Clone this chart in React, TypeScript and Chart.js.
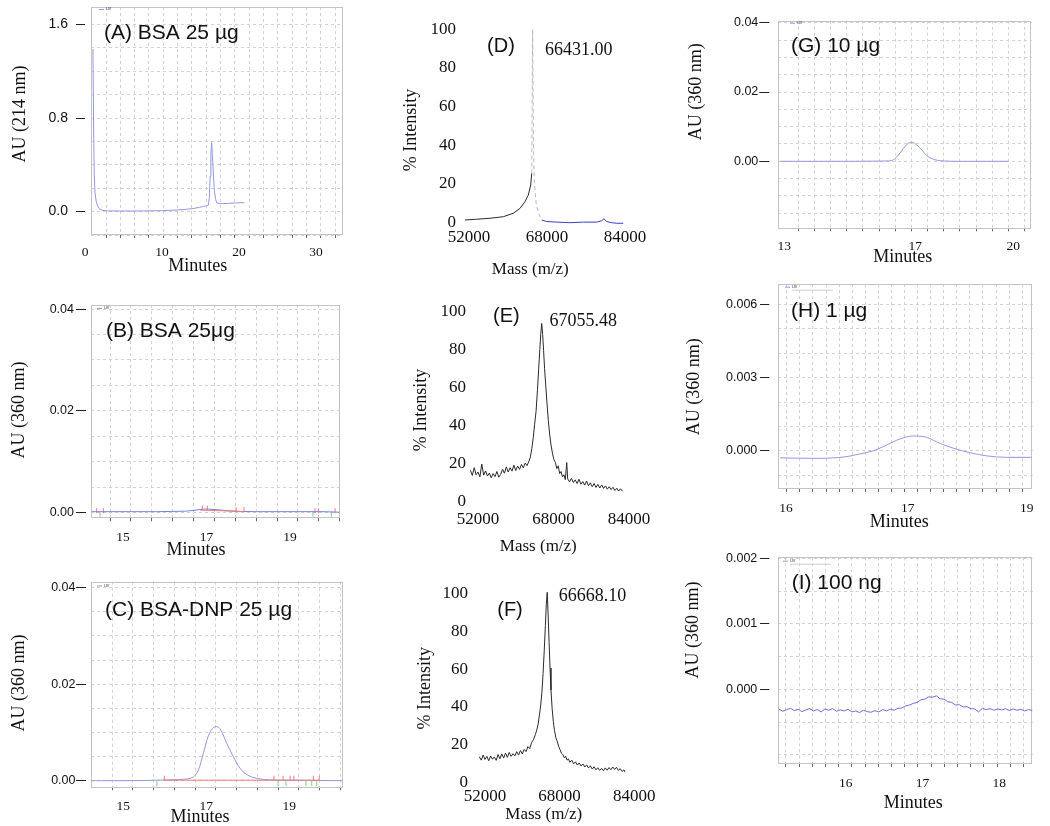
import React, { useEffect, useRef } from "react";
import { Chart, registerables } from "chart.js";

Chart.register(...registerables);

const SERIF = "'Liberation Serif', 'DejaVu Serif', serif";
const SANS = "'Liberation Sans', 'DejaVu Sans', sans-serif";
const GRID_COLOR = "#d2d2d2";
const BOX_COLOR = "#c4c4c4";
const TRACE = "#9497e0";
const TRACE_B = "#7c7fdc";
const TRACE_I = "#6c6fd0";
const RED = "#f07a7a";
const GREEN = "#78d478";
const MS_BLACK = "#2a2a2a";
const MS_BLUE = "#3c3cc8";

// ================= DATA =================
// (A) BSA 25 µg, AU at 214 nm vs minutes
const aTrace: [number, number][] = [
  [1.03, 1.39], [1.12, 0.7], [1.2, 0.32], [1.3, 0.16], [1.45, 0.09], [1.6, 0.055], [1.85, 0.025],
  [2.3, 0.01], [3.0, 0.006], [5.0, 0.005], [8.0, 0.006], [10.0, 0.008], [12.0, 0.014], [13.2, 0.02],
  [14.0, 0.026], [14.9, 0.037], [15.5, 0.046], [15.8, 0.051], [16.02, 0.055], [16.15, 0.12],
  [16.25, 0.3], [16.35, 0.5], [16.45, 0.59], [16.55, 0.48], [16.66, 0.33], [16.8, 0.18],
  [16.95, 0.11], [17.1, 0.075], [17.5, 0.068], [18.5, 0.07], [19.5, 0.074], [20.7, 0.077],
];

// (B) BSA 25 µg, AU at 360 nm
const bTrace: [number, number][] = [
  [14.25, 0.0002], [15.0, 0.0002], [15.8, 0.0002], [16.5, 0.0003], [16.75, 0.0005], [16.9, 0.0007],
  [17.05, 0.0007], [17.25, 0.0006], [17.5, 0.0004], [17.8, 0.00025], [18.2, 0.0002], [19.0, 0.0002],
  [19.8, 0.0002], [20.19, 0.0001],
];
const bRedLine: [number, number][] = [[16.85, 0.0005], [17.3, 0.0004], [17.9, 0.0002]];
const bRedMarks: [number, number][] = [
  [14.37, 0.0004], [14.53, 0.0004], [16.9, 0.0009], [17.02, 0.0009], [17.71, 0.0006],
  [17.9, 0.0006], [19.6, 0.0004], [19.68, 0.0004], [20.08, 0.0004],
];
const bGreenMarks: [number, number][] = [[14.45, -0.0003], [19.55, -0.0003], [19.99, -0.0003]];

// (C) BSA-DNP 25 µg, AU at 360 nm
const cTrace: [number, number][] = [
  [14.23, 0.0], [15.0, 0.0], [15.8, 0.0001], [16.2, 0.0002], [16.45, 0.0003], [16.69, 0.0008],
  [16.81, 0.0022], [16.93, 0.0057], [17.05, 0.0093], [17.17, 0.011], [17.25, 0.0112],
  [17.35, 0.0105], [17.49, 0.0078], [17.65, 0.005], [17.81, 0.0026], [17.97, 0.0013],
  [18.21, 0.0005], [18.62, 0.00015], [19.2, 0.0001], [20.28, 0.0],
];
const cRedLine: [number, number][] = [[15.97, 0.0001], [17.0, 0.0001], [18.0, 0.0001], [19.0, 0.0001], [19.74, 0.0001]];
const cRedMarks: [number, number][] = [
  [15.99, 0.0005], [18.63, 0.0005], [18.85, 0.0005], [19.02, 0.0005], [19.11, 0.0005], [19.58, 0.0005], [19.72, 0.0005],
];
const cGreenMarks: [number, number][] = [
  [15.81, -0.0006], [18.73, -0.0006], [18.92, -0.0006], [19.4, -0.0006], [19.54, -0.0006], [19.66, -0.0006],
];

// (D) BSA mass spectrum
const dBlack: [number, number][] = [
  [51180, 1.4], [53580, 1.8], [56310, 2.3], [59040, 3.1], [61090, 4.9], [62460, 7.4], [63490, 10.9],
  [64170, 14.3], [64660, 19.5], [64860, 25.5], [65050, 100], [65200, 45], [65380, 22],
  [65800, 9], [66250, 5.5], [66590, 2.8],
];
const dBlue: [number, number][] = [
  [66910, 1.4], [67940, 0.6], [69990, 0.3], [72720, 0.0], [75450, 0.3], [78190, 0.3], [79220, 1.0],
  [79690, 2.0], [80250, 0.6], [81270, 0.0], [82300, -0.3], [83650, -0.3],
];

// (E) mass spectrum
const eSpectrum: [number, number][] = [
  [50400, 16.5], [50800, 13.8], [51200, 17.9], [51600, 14.2], [52000, 15.6], [52400, 13.1], [52800, 19.8],
  [53200, 14.0], [53600, 16.2], [54000, 13.5], [54400, 15.1], [54800, 12.6], [55200, 14.8], [55600, 13.2],
  [56000, 15.9], [56400, 12.9], [56800, 14.4], [57200, 17.1], [57600, 15.0], [58000, 18.3], [58400, 15.6],
  [58800, 17.9], [59200, 16.1], [59600, 19.2], [60000, 16.4], [60400, 18.8], [60800, 17.0], [61200, 19.6],
  [61600, 17.8], [62000, 20.3], [62400, 19.0], [62800, 21.4], [63100, 23.6], [63400, 27.9], [63700, 33.6],
  [64000, 40.8], [64300, 47.5], [64600, 58.9], [64850, 69.7], [65100, 80.2], [65300, 88.5], [65500, 93.8],
  [65700, 88.0], [65900, 79.5], [66100, 70.2], [66350, 61.3], [66600, 52.4], [66900, 42.6], [67200, 35.1],
  [67500, 29.3], [67800, 25.2], [68100, 22.0], [68400, 20.6], [68700, 17.4], [69000, 18.9], [69300, 14.8],
  [69600, 15.9], [69900, 13.1], [70200, 14.2], [70500, 11.6], [70800, 20.6], [71000, 12.0], [71400, 10.4],
  [71800, 12.3], [72200, 10.1], [72600, 11.5], [73000, 9.6], [73400, 11.8], [73800, 9.2], [74200, 10.6],
  [74600, 8.7], [75000, 10.9], [75400, 8.4], [75800, 9.9], [76200, 7.9], [76600, 9.6], [77000, 7.5],
  [77400, 9.1], [77800, 7.2], [78200, 8.8], [78600, 7.0], [79000, 8.3], [79400, 6.6], [79800, 7.9],
  [80200, 6.4], [80600, 7.6], [81000, 5.9], [81400, 7.1], [81800, 5.6], [82200, 6.8], [82650, 5.4],
];

// (F) mass spectrum
const fSpectrum: [number, number][] = [
  [50780, 13.7], [51200, 11.9], [51600, 14.6], [52000, 12.3], [52400, 13.9], [52800, 11.6], [53200, 14.1],
  [53600, 12.4], [54000, 13.6], [54400, 11.8], [54800, 14.9], [55200, 12.7], [55600, 15.2], [56000, 13.0],
  [56400, 15.6], [56800, 13.4], [57200, 16.0], [57600, 13.9], [58000, 15.3], [58400, 14.1], [58800, 16.4],
  [59200, 14.6], [59600, 17.0], [60000, 15.2], [60400, 17.6], [60800, 16.4], [61200, 19.1], [61600, 18.0],
  [62000, 21.2], [62400, 22.8], [62800, 25.4], [63100, 27.8], [63400, 31.0], [63700, 36.2], [63950, 41.0],
  [64200, 47.5], [64450, 57.6], [64700, 69.5], [64950, 83.0], [65150, 94.2], [65350, 100.5], [65550, 88.0],
  [65750, 74.0], [65950, 60.5], [66150, 49.0], [66400, 39.2], [66650, 32.4], [66900, 27.6], [67200, 23.7],
  [67500, 21.8], [67800, 19.2], [68100, 17.4], [68400, 15.5], [68700, 14.8], [69000, 13.2], [69300, 14.0],
  [69600, 11.9], [69900, 12.6], [70200, 10.8], [70600, 11.9], [71000, 9.9], [71400, 11.0], [71800, 9.3],
  [72200, 10.4], [72600, 8.8], [73000, 9.9], [73400, 8.3], [73800, 9.4], [74200, 7.8], [74600, 8.9],
  [75000, 7.2], [75400, 8.4], [75800, 6.8], [76200, 7.9], [76600, 6.5], [77000, 7.6], [77400, 6.3],
  [77800, 7.8], [78200, 6.6], [78600, 8.0], [79000, 6.9], [79400, 8.3], [79800, 7.0], [80200, 8.1],
  [80600, 6.5], [81000, 7.4], [81400, 5.9], [81800, 6.8], [82030, 5.6],
];

// (G) 10 µg
const gTrace: [number, number][] = [
  [12.87, 0.0], [14.0, 0.0], [15.0, 0.0], [15.8, 0.00005], [16.13, 0.0001], [16.33, 0.0004],
  [16.49, 0.0018], [16.64, 0.0037], [16.79, 0.0052], [16.91, 0.00548], [17.05, 0.0047], [17.2, 0.0033],
  [17.35, 0.0017], [17.56, 0.0006], [17.86, 0.0001], [18.4, 0.0], [19.2, 0.0], [19.85, 0.0],
];

// (H) 1 µg
const hTrace: [number, number][] = [
  [15.925, -0.00028], [16.34, -0.0003], [16.55, -0.00029], [16.76, -0.00023], [16.92, -0.00012],
  [17.09, 0.00001], [17.255, 0.000245], [17.42, 0.00049], [17.59, 0.000614], [17.75, 0.00056],
  [17.92, 0.00031], [18.09, 0.00011], [18.29, -0.00007], [18.5, -0.0002], [18.75, -0.00026], [19.06, -0.00026],
];

// (I) 100 ng
const iTrace: [number, number][] = [
  [15.13, -0.0003], [15.18, -0.000335], [15.23, -0.00031], [15.28, -0.00029], [15.33, -0.000325],
  [15.38, -0.000305], [15.43, -0.00034], [15.48, -0.000315], [15.53, -0.000295], [15.58, -0.00033],
  [15.63, -0.00031], [15.68, -0.000345], [15.73, -0.0003], [15.78, -0.00032], [15.83, -0.000295],
  [15.88, -0.000335], [15.93, -0.000315], [15.98, -0.00033], [16.03, -0.000305], [16.08, -0.000345],
  [16.13, -0.00033], [16.18, -0.000355], [16.23, -0.00032], [16.28, -0.00034], [16.33, -0.00035],
  [16.38, -0.000325], [16.43, -0.000345], [16.48, -0.00031], [16.53, -0.00033], [16.58, -0.000305],
  [16.63, -0.00032], [16.68, -0.00029], [16.73, -0.000285], [16.78, -0.000255], [16.83, -0.00024],
  [16.88, -0.000215], [16.93, -0.0002], [16.98, -0.00016], [17.03, -0.00015], [17.08, -0.000115],
  [17.13, -0.00012], [17.18, -0.0001], [17.23, -0.000145], [17.28, -0.00015], [17.33, -0.00019],
  [17.38, -0.0002], [17.43, -0.00024], [17.48, -0.000235], [17.53, -0.00027], [17.58, -0.000265],
  [17.63, -0.000295], [17.68, -0.0003], [17.73, -0.000345], [17.78, -0.00029], [17.83, -0.00031],
  [17.88, -0.000295], [17.93, -0.00032], [17.98, -0.0003], [18.03, -0.000315], [18.08, -0.000295],
  [18.13, -0.000325], [18.18, -0.0003], [18.23, -0.00032], [18.28, -0.000305], [18.33, -0.00033],
  [18.38, -0.00031], [18.43, -0.00032],
];

// tick labels
const aXTicks = [0, 10, 20, 30];
const aYTicks = [0, 0.8, 1.6];
const aYLabels = ["0.0", "0.8", "1.6"];
const bcXTicks = [15, 17, 19];
const bcgYTicks = [0, 0.02, 0.04];
const bcgYLabels = ["0.00", "0.02", "0.04"];
const gXTicks = [13, 17, 20];
const hXTickAt = [16, 17.517, 19];
const hXLabels = ["16", "17", "19"];
const hYTicks = [0, 0.003, 0.006];
const hYLabels = ["0.000", "0.003", "0.006"];
const iXTicks = [16, 17, 18];
const iYTicks = [0, 0.001, 0.002];
const iYLabels = ["0.000", "0.001", "0.002"];
const msXTicks = [52000, 68000, 84000];
const msYTicks = [0, 20, 40, 60, 80, 100];

// ================= HELPERS =================
type Txt = { t: string; x: number; y: number; size: number; family: string; align?: CanvasTextAlign; rot?: number };
type AxisCfg = {
  min: number; max: number; grid: number[]; at: number[]; labels: string[];
  font: { family: string; size: number }; tickLength: number; tickDash?: number[];
  tickColor: string; marks: "grid" | "label"; padding: number;
};
type Series = { pts: [number, number][]; color: string; width?: number; smooth?: boolean; markers?: boolean; fadeFromX?: number };
type Panel = {
  id: string; rect: [number, number, number, number]; area: [number, number, number, number];
  x: AxisCfg; y: AxisCfg; box: boolean; series: Series[]; texts: Txt[];
  legend?: { x: number; y: number; long?: boolean; color: string };
};

function steps(start: number, end: number, step: number): number[] {
  const out: number[] = [];
  const n = Math.floor((end - start) / step + 1e-6);
  for (let i = 0; i <= n; i++) out.push(+(start + i * step).toFixed(8));
  return out;
}
const str = (v: number[]) => v.map((x) => String(x));

const CLEAR = "rgba(0,0,0,0)";

function buildAxis(a: AxisCfg, horizontal: boolean, size: number): any {
  const tol = (a.max - a.min) * 1e-6;
  const meta: { value: number; grid: boolean; label: string | null }[] = [];
  const add = (v: number, grid: boolean, label: string | null) => {
    const hit = meta.find((m) => Math.abs(m.value - v) <= tol);
    if (hit) {
      hit.grid = hit.grid || grid;
      if (label !== null) hit.label = label;
    } else meta.push({ value: v, grid, label });
  };
  a.grid.forEach((v) => add(v, true, null));
  a.at.forEach((v, i) => add(v, false, a.labels[i]));
  meta.sort((p, q) => p.value - q.value);
  const hasGrid = a.grid.length > 0;
  return {
    type: "linear",
    position: horizontal ? "bottom" : "left",
    min: a.min,
    max: a.max,
    afterBuildTicks: (s: any) => {
      s.ticks = meta.map((m) => ({ value: m.value }));
    },
    afterFit: (s: any) => {
      if (horizontal) {
        s.height = size; s.paddingLeft = 0; s.paddingRight = 0;
      } else {
        s.width = size; s.paddingTop = 0; s.paddingBottom = 0;
      }
    },
    grid: {
      display: hasGrid || a.tickLength > 0,
      drawOnChartArea: hasGrid,
      color: (c: any) => (meta[c.index] && meta[c.index].grid ? GRID_COLOR : CLEAR),
      lineWidth: 1,
      drawTicks: a.tickLength > 0,
      tickLength: a.tickLength,
      tickWidth: 1,
      tickColor: (c: any) => {
        const m = meta[c.index];
        if (!m) return CLEAR;
        const on = a.marks === "grid" ? m.grid : m.label !== null;
        return on ? a.tickColor : CLEAR;
      },
      tickBorderDash: a.tickDash || [],
    },
    border: { display: false, dash: [3, 3] },
    ticks: {
      autoSkip: false,
      maxRotation: 0,
      minRotation: 0,
      padding: a.padding,
      font: a.font,
      color: "#111",
      callback: (_v: any, i: number) => (meta[i] && meta[i].label) || "",
    },
  };
}

function decorPlugin(p: Panel) {
  return {
    id: "decor" + p.id,
    beforeDatasetsDraw(chart: any) {
      if (!p.box) return;
      const { left, top, right, bottom } = chart.chartArea;
      const ctx = chart.ctx;
      ctx.save();
      ctx.strokeStyle = BOX_COLOR;
      ctx.lineWidth = 1;
      ctx.strokeRect(Math.round(left) + 0.5, Math.round(top) + 0.5, Math.round(right - left) - 1, Math.round(bottom - top) - 1);
      ctx.restore();
    },
    afterDraw(chart: any) {
      const ctx = chart.ctx;
      const [cl, ct] = p.rect;
      if (p.legend) {
        const lx = p.legend.x - cl, ly = p.legend.y - ct;
        ctx.save();
        ctx.strokeStyle = p.legend.color;
        ctx.lineWidth = 1;
        ctx.beginPath();
        ctx.moveTo(lx, ly + 0.5);
        ctx.lineTo(lx + 5, ly + 0.5);
        ctx.stroke();
        ctx.fillStyle = "#555";
        ctx.font = `5px ${SANS}`;
        ctx.textBaseline = "middle";
        ctx.fillText("uv", lx + 7, ly);
        if (p.legend.long) {
          ctx.strokeStyle = "#cfcfcf";
          ctx.beginPath();
          ctx.moveTo(lx + 7, ly + 3.5);
          ctx.lineTo(lx + 48, ly + 3.5);
          ctx.stroke();
        }
        ctx.restore();
      }
      p.texts.forEach((t) => {
        ctx.save();
        ctx.translate(t.x - cl, t.y - ct);
        if (t.rot) ctx.rotate((t.rot * Math.PI) / 180);
        ctx.font = `${t.size}px ${t.family}`;
        ctx.fillStyle = "#111";
        ctx.textAlign = t.align || "center";
        ctx.textBaseline = "middle";
        ctx.fillText(t.t, 0, 0);
        ctx.restore();
      });
    },
  };
}

function buildConfig(p: Panel): any {
  const [cl, ct, cw, ch] = p.rect;
  const [L, T, R, B] = p.area;
  const datasets = p.series.map((s) => {
    const ds: any = {
      data: s.pts.map(([x, y]) => ({ x, y })),
      borderColor: s.color,
      backgroundColor: s.color,
      borderWidth: s.width ?? 1,
      pointRadius: s.markers ? 2.5 : 0,
      pointStyle: s.markers ? "line" : "circle",
      pointRotation: 90,
      pointBorderColor: s.color,
      pointBorderWidth: 1,
      showLine: !s.markers,
      tension: 0,
      cubicInterpolationMode: s.smooth ? "monotone" : "default",
      fill: false,
      clip: false,
    };
    if (s.fadeFromX !== undefined) {
      const from = s.fadeFromX;
      ds.segment = {
        borderColor: (c: any) => (c.p0.parsed.x >= from ? "#b8b8b8" : undefined),
        borderDash: (c: any) => (c.p0.parsed.x >= from ? [4, 3] : undefined),
      };
    }
    return ds;
  });
  return {
    type: "line",
    data: { datasets },
    options: {
      animation: false,
      responsive: false,
      maintainAspectRatio: false,
      devicePixelRatio: 1,
      events: [],
      layout: { autoPadding: false, padding: { left: 0, top: T - ct, right: cl + cw - R, bottom: 0 } },
      plugins: { legend: { display: false }, tooltip: { enabled: false }, title: { display: false } },
      scales: {
        x: buildAxis(p.x, true, ct + ch - B),
        y: buildAxis(p.y, false, L - cl),
      },
    },
    plugins: [decorPlugin(p)],
  };
}

// ================= PANELS =================
const xFont = { family: SERIF, size: 13.5 };
const msFont = { family: SERIF, size: 17 };

const chromX = (min: number, max: number, grid: number[], at: number[], labels: string[], padding: number): AxisCfg => ({
  min, max, grid, at, labels, font: xFont, tickLength: 3, tickColor: "#666", marks: "grid", padding,
});
const chromY = (min: number, max: number, grid: number[], at: number[], labels: string[], tl: number, dash: number, padding: number, size = 12.5): AxisCfg => ({
  min, max, grid, at, labels, font: { family: SANS, size }, tickLength: tl, tickDash: [dash, 40], tickColor: "#222", marks: "label", padding,
});
const msX = (min: number, max: number, padding: number): AxisCfg => ({
  min, max, grid: [], at: msXTicks, labels: str(msXTicks), font: msFont, tickLength: 0, tickColor: "#000", marks: "label", padding,
});
const msY = (padding: number): AxisCfg => ({
  min: 0, max: 100, grid: [], at: msYTicks, labels: str(msYTicks), font: msFont, tickLength: 0, tickColor: "#000", marks: "label", padding,
});
const T18 = (t: string, x: number, y: number, rot?: number): Txt => ({ t, x, y, size: 18, family: SERIF, rot });
const T17 = (t: string, x: number, y: number): Txt => ({ t, x, y, size: 17, family: SERIF });
const S21 = (t: string, x: number, y: number): Txt => ({ t, x, y, size: 21, family: SANS, align: "left" });
const S20 = (t: string, x: number, y: number): Txt => ({ t, x, y, size: 20, family: SANS });

const PANELS: Panel[] = [
  {
    id: "A", rect: [0, 0, 350, 285], area: [91, 7, 343, 235], box: true,
    x: chromX(0.779, 33.506, steps(2.73, 33.5, 1.86), aXTicks, str(aXTicks), 6.5),
    y: chromY(-0.2, 1.75, steps(-0.2, 1.6, 0.2), aYTicks, aYLabels, 15, 9, 8, 14),
    series: [{ pts: aTrace, color: TRACE }],
    texts: [T18("AU (214 nm)", 20, 114, -90), T18("Minutes", 197.7, 266.7), S21("(A) BSA 25 µg", 104, 33.3)],
    legend: { x: 99, y: 9, color: TRACE },
  },
  {
    id: "B", rect: [0, 285, 350, 280], area: [91, 305, 340, 518.3], box: true,
    x: chromX(14.234, 20.198, steps(14.69, 20.19, 0.5), bcXTicks, str(bcXTicks), 7.9),
    y: chromY(-0.0011, 0.0408, steps(0, 0.04, 0.005), bcgYTicks, bcgYLabels, 15, 10, 2),
    series: [
      { pts: bRedLine, color: RED },
      { pts: bTrace, color: TRACE_B },
      { pts: bRedMarks, color: RED, markers: true },
      { pts: bGreenMarks, color: GREEN, markers: true },
    ],
    texts: [T18("AU (360 nm)", 19.5, 410, -90), T18("Minutes", 196, 550), S21("(B) BSA 25μg", 106, 331.7)],
    legend: { x: 97, y: 308, color: TRACE },
  },
  {
    id: "C", rect: [0, 565, 350, 261], area: [91, 581.7, 343, 787.3], box: true,
    x: chromX(14.222, 20.294, steps(14.73, 20.29, 0.5), bcXTicks, str(bcXTicks), 7.7),
    y: chromY(-0.00137, 0.04124, steps(0, 0.04, 0.005), bcgYTicks, bcgYLabels, 15, 10, 0.5),
    series: [
      { pts: cRedLine, color: RED },
      { pts: cTrace, color: TRACE, smooth: true },
      { pts: cRedMarks, color: RED, markers: true },
      { pts: cGreenMarks, color: GREEN, markers: true },
    ],
    texts: [T18("AU (360 nm)", 19.3, 683, -90), T18("Minutes", 200, 817.5), S21("(C) BSA-DNP 25 µg", 105, 610)],
    legend: { x: 97, y: 585.5, color: TRACE },
  },
  {
    id: "D", rect: [350, 0, 330, 290], area: [463, 29.3, 630, 222.7], box: false,
    x: msX(50769, 85026, 4.4),
    y: msY(7),
    series: [
      { pts: dBlack, color: MS_BLACK, fadeFromX: 64860 },
      { pts: dBlue, color: MS_BLUE },
    ],
    texts: [T18("% Intensity", 411.7, 130, -90), T17("Mass (m/z)", 530.3, 269.3), S20("(D)", 501, 46.7), T18("66431.00", 578.7, 50)],
  },
  {
    id: "E", rect: [350, 290, 330, 275], area: [468, 311.7, 632, 501.7], box: false,
    x: msX(49881, 84627, 8.1),
    y: msY(2),
    series: [{ pts: eSpectrum, color: MS_BLACK }],
    texts: [T18("% Intensity", 421.7, 410, -90), T17("Mass (m/z)", 538.3, 547), S20("(E)", 506.3, 316.7), T18("67055.48", 583.3, 321.7)],
  },
  {
    id: "F", rect: [350, 565, 330, 261], area: [476, 593.3, 638, 782.7], box: false,
    x: msX(50070, 84815, 3.8),
    y: msY(8),
    series: [{ pts: fSpectrum, color: MS_BLACK }],
    texts: [T18("% Intensity", 425, 688.3, -90), T17("Mass (m/z)", 543.8, 815), S20("(F)", 510, 610), T18("66668.10", 592.5, 596.7)],
  },
  {
    id: "G", rect: [680, 0, 370, 276], area: [778.3, 20.7, 1031.7, 228.3], box: true,
    x: chromX(12.817, 20.563, steps(13.43, 20.56, 0.494), gXTicks, str(gXTicks), 6.6),
    y: chromY(-0.01934, 0.04058, steps(-0.015, 0.04, 0.005), bcgYTicks, bcgYLabels, 19, 10, 1),
    series: [{ pts: gTrace, color: TRACE, smooth: true }],
    texts: [T18("AU (360 nm)", 696.7, 91.7, -90), T18("Minutes", 902.7, 257.3), S21("(G) 10 µg", 791, 46)],
    legend: { x: 790, y: 22.7, color: TRACE },
  },
  {
    id: "H", rect: [680, 276, 370, 269], area: [778.3, 284, 1032.7, 489], box: true,
    x: chromX(15.904, 19.075, steps(16.01, 19.07, 0.163), hXTickAt, hXLabels, 7.9),
    y: chromY(-0.001555, 0.00683, steps(-0.001, 0.006, 0.001), hYTicks, hYLabels, 18.3, 9.3, 2.7),
    series: [{ pts: hTrace, color: TRACE, smooth: true }],
    texts: [T18("AU (360 nm)", 694, 386.7, -90), T18("Minutes", 899.3, 522.3), S21("(H) 1 µg", 791, 311.7)],
    legend: { x: 785, y: 286.7, long: true, color: TRACE },
  },
  {
    id: "I", rect: [680, 545, 370, 281], area: [778.3, 557.3, 1032.7, 764], box: true,
    x: chromX(15.122, 18.435, steps(15.22, 18.43, 0.172), iXTicks, str(iXTicks), 7.9),
    y: chromY(-0.00114, 0.002015, steps(-0.001, 0.002, 0.0005), iYTicks, iYLabels, 18.3, 9.3, 2.7),
    series: [{ pts: iTrace, color: TRACE_I }],
    texts: [T18("AU (360 nm)", 693.3, 630, -90), T18("Minutes", 913.3, 803.3), S21("(I) 100 ng", 791.7, 583.3)],
    legend: { x: 783, y: 560.7, long: true, color: TRACE },
  },
];

function PanelChart({ p }: { p: Panel }) {
  const ref = useRef<HTMLCanvasElement | null>(null);
  useEffect(() => {
    if (!ref.current) return;
    const chart = new Chart(ref.current, buildConfig(p));
    return () => chart.destroy();
  }, [p]);
  const [l, t, w, h] = p.rect;
  return (
    <canvas
      ref={ref}
      width={w}
      height={h}
      style={{ position: "absolute", left: l, top: t, width: w, height: h, display: "block" }}
    />
  );
}

export default function App() {
  return (
    <div style={{ position: "absolute", left: 0, top: 0, width: 1050, height: 826, background: "#fff", overflow: "hidden" }}>
      {PANELS.map((p) => (
        <PanelChart key={p.id} p={p} />
      ))}
    </div>
  );
}
